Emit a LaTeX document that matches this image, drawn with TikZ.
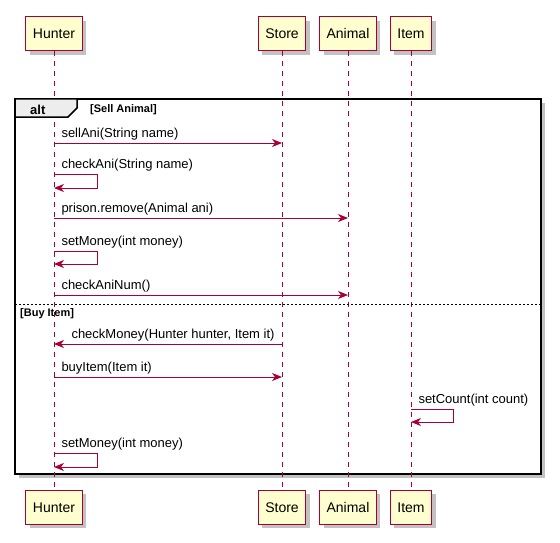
\documentclass[tikz,border=0pt]{standalone}
\usepackage{fontspec}
\setmainfont{Liberation Sans}
\usetikzlibrary{arrows.meta,shadows}
\definecolor{umlred}{HTML}{A80036}
\definecolor{umlfill}{HTML}{FEFECE}

\begin{document}
\begin{tikzpicture}[x=1pt, y=1pt,
  actor/.style={draw=umlred, line width=1pt, fill=umlfill, minimum height=34pt, inner xsep=7pt, text height=10pt, text depth=0pt, font=\fontsize{14}{16}\selectfont, drop shadow={shadow xshift=4pt, shadow yshift=-4pt, fill=black!40, opacity=0.6}},
  life/.style={draw=umlred, line width=0.8pt, dash pattern=on 5pt off 5pt},
  msg/.style={draw=umlred, line width=1pt, -{Stealth[length=10pt, width=8pt, inset=3pt]}},
  txt/.style={anchor=base west, inner sep=0pt, font=\fontsize{13}{15}\selectfont},
  frame/.style={draw=black, line width=1.5pt},
  cond/.style={anchor=base west, inner sep=0pt, font=\bfseries\fontsize{11}{13}\selectfont}]

\useasboundingbox (0,0) rectangle (560,-543);

% Quadro alt
\draw[frame, fill=white, drop shadow={shadow xshift=4pt, shadow yshift=-4pt, fill=black!40, opacity=0.6}] (15,-99) rectangle (541,-474);

% Participantes
\node[actor] (hunterT) at ( 54,-34) {Hunter};
\node[actor] (storeT)  at (282,-34) {Store};
\node[actor] (animalT) at (348,-34) {Animal};
\node[actor] (itemT)   at (411,-34) {Item};

\node[actor] (hunterB) at ( 54,-507) {Hunter};
\node[actor] (storeB)  at (282,-507) {Store};
\node[actor] (animalB) at (348,-507) {Animal};
\node[actor] (itemB)   at (411,-507) {Item};

% Linhas de vida
\draw[life] (hunterT.south) -- (hunterB.north);
\draw[life] (storeT.south)  -- (storeB.north);
\draw[life] (animalT.south) -- (animalB.north);
\draw[life] (itemT.south)   -- (itemB.north);

% Cabecalho do quadro
\draw[frame, fill=black!7] (15,-99) -- (77,-99) -- (77,-108) -- (68,-117) -- (15,-117) -- cycle;
\node[anchor=base west, inner sep=0pt, font=\bfseries\fontsize{13}{15}\selectfont] (alt) at (30,-114) {alt};
\node[cond] (sell) at (90,-112.5) {[Sell Animal]};

% Separador
\draw[line width=0.8pt, dash pattern=on 2pt off 2pt] (15,-304.5) -- (541,-304.5);
\node[cond] (buy) at (20,-316) {[Buy Item]};

% Niveis das mensagens
\coordinate (m1) at (0,-143);
\coordinate (m2) at (0,-174);
\coordinate (m3) at (0,-218);
\coordinate (m4) at (0,-251);
\coordinate (m5) at (0,-295);
\coordinate (m6) at (0,-344);
\coordinate (m7) at (0,-377);
\coordinate (m8) at (0,-409);
\coordinate (m9) at (0,-453);

% Mensagens
\draw[msg] (hunterT |- m1) node[txt, xshift=7pt, yshift=5.5pt] {sellAni(String name)} -- (storeT |- m1);
\draw[msg] (hunterT |- m2) node[txt, xshift=7pt, yshift=5.5pt] {checkAni(String name)} -- ++(43,0) -- ++(0,-14) -- ++(-43,0);
\draw[msg] (hunterT |- m3) node[txt, xshift=7pt, yshift=5.5pt] {prison.remove(Animal ani)} -- (animalT |- m3);
\draw[msg] (hunterT |- m4) node[txt, xshift=7pt, yshift=5.5pt] {setMoney(int money)} -- ++(43,0) -- ++(0,-13) -- ++(-43,0);
\draw[msg] (hunterT |- m5) node[txt, xshift=7pt, yshift=5.5pt] {checkAniNum()} -- (animalT |- m5);
\draw[msg] (storeT |- m6) -- (hunterT |- m6) node[txt, xshift=17pt, yshift=5.5pt] {checkMoney(Hunter hunter, Item it)};
\draw[msg] (hunterT |- m7) node[txt, xshift=7pt, yshift=5.5pt] {buyItem(Item it)} -- (storeT |- m7);
\draw[msg] (itemT |- m8) node[txt, xshift=7pt, yshift=5.5pt] {setCount(int count)} -- ++(42,0) -- ++(0,-13) -- ++(-42,0);
\draw[msg] (hunterT |- m9) node[txt, xshift=7pt, yshift=5.5pt] {setMoney(int money)} -- ++(43,0) -- ++(0,-14) -- ++(-43,0);

\end{tikzpicture}
\end{document}
